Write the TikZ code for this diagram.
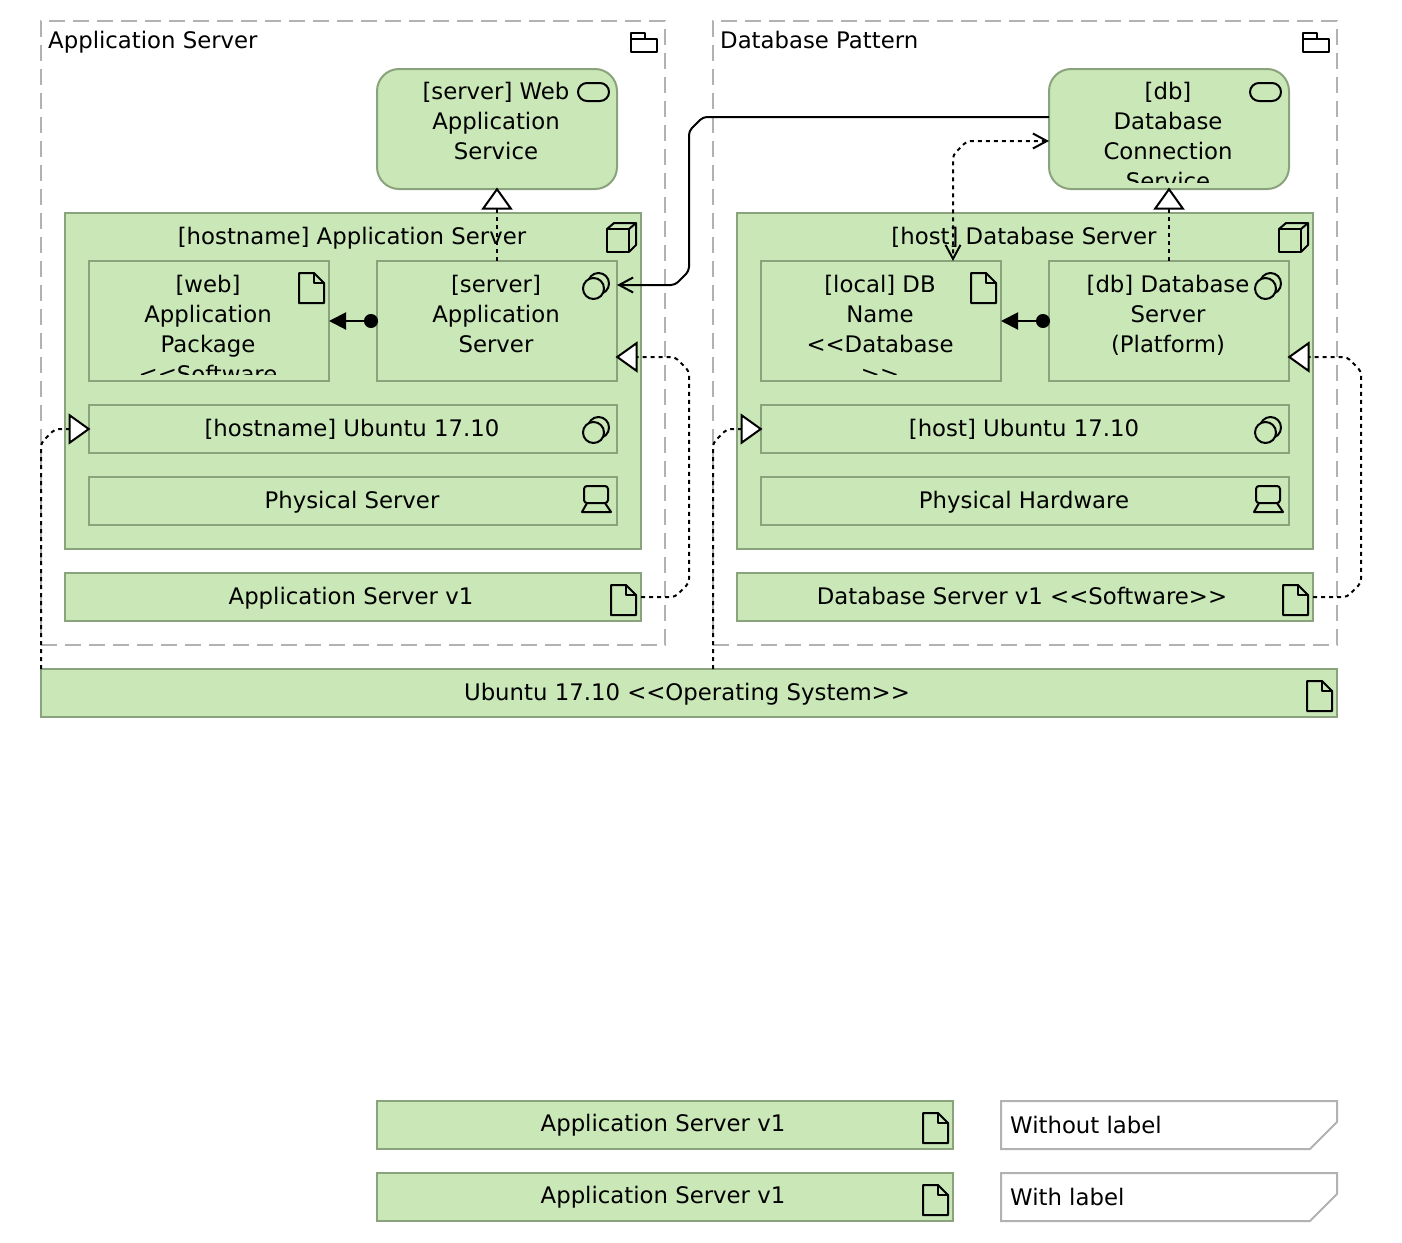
\documentclass[tikz,border=0pt]{standalone}
\usepackage{fontspec}
\setmainfont{DejaVu Sans}
\usetikzlibrary{arrows.meta}
\usetikzlibrary{positioning}
\definecolor{elemfill}{HTML}{C9E7B7}
\definecolor{elemline}{HTML}{8AA37C}
\definecolor{groupline}{HTML}{B2B2B2}
\tikzset{
  elem/.style={draw=elemline,fill=elemfill,line width=2pt,inner sep=0pt,outer sep=0pt},
  grp/.style={draw=groupline,line width=2pt,dash pattern=on 16pt off 8pt,inner sep=0pt,outer sep=0pt},
  lbl/.style={anchor=north,align=center,inner sep=0pt,font=\fontsize{22.8}{30}\selectfont,execute at begin node=\strut},
  lblleft/.style={lbl,anchor=north west},
  notebox/.style={draw=groupline,fill=white,line width=2pt},
  realz/.style={line width=2pt,dash pattern=on 4pt off 4pt,rounded corners=4pt,shorten >=-1.5pt,-{Triangle[fill=white,length=22pt,width=31pt]}},
  assoc/.style={line width=2pt,rounded corners=4pt,-{Straight Barb[length=14pt,width=15pt]}},
  accs/.style={line width=2pt,dash pattern=on 4pt off 4pt,rounded corners=4pt,{Straight Barb[length=14pt,width=15pt]}-{Straight Barb[length=14pt,width=15pt]}},
  asgn/.style={line width=2pt,{Circle[length=14pt]}-{Triangle[length=17pt,width=17pt]}},
  ico/.style={line width=2pt,line join=round},
  pics/docicon/.style={code={
    \draw[ico] (-30,12) -- (-30,42) -- (-5,42) -- (-5,22) -- (-15,12) -- cycle;
    \draw[ico] (-15,12) -- (-15,22) -- (-5,22);}},
  pics/svcicon/.style={code={
    \draw[ico,rounded corners=9pt] (-39,14) rectangle (-8,32);}},
  pics/sysicon/.style={code={
    \draw[ico] (-18.5,22.5) circle (10.5pt);
    \draw[ico,fill=elemfill] (-23.5,27.5) circle (10.5pt);}},
  pics/nodeicon/.style={code={
    \draw[ico] (-34,16) rectangle (-12,39);
    \draw[ico] (-34,16) -- (-27,10) -- (-5,10) -- (-5,32) -- (-12,39);
    \draw[ico] (-12,16) -- (-5,10);}},
  pics/devicon/.style={code={
    \draw[ico,rounded corners=3pt] (-33,9) rectangle (-9,26);
    \draw[ico] (-30,26) -- (-35,35) -- (-6,35) -- (-12,26);}},
  pics/foldericon/.style={code={
    \draw[ico] (-34,12) -- (-20,12) -- (-20,18) -- (-8,18) -- (-8,31) -- (-34,31) -- cycle;
    \draw[ico] (-34,18) -- (-20,18);}}
}
\begin{document}
\begin{tikzpicture}[x=1pt,y=-1pt]
\useasboundingbox (0,0) rectangle (1402,1242);
% groups
\node[grp,minimum width=624pt,minimum height=624pt] (appgroup) at (353,333) {};
\node[grp,minimum width=624pt,minimum height=624pt] (dbgroup) at (1025,333) {};
\node[lblleft] (appgrouplbl) at (48,27) {Application Server};
\node[lblleft] (dbgrouplbl) at (720,27) {Database Pattern};
\pic at (appgroup.north east) {foldericon};
\pic at (dbgroup.north east) {foldericon};
% left side
\node[elem,rounded corners=22pt,minimum width=240pt,minimum height=120pt] (websvc) at (497,129) {};
\node[elem,minimum width=576pt,minimum height=336pt] (appnode) at (353,381) {};
\node[elem,minimum width=240pt,minimum height=120pt] (webpkg) at (209,321) {};
\node[elem,minimum width=240pt,minimum height=120pt] (appsrv) at (497,321) {};
\node[elem,minimum width=528pt,minimum height=48pt] (appos) at (353,429) {};
\node[elem,minimum width=528pt,minimum height=48pt] (apphw) at (353,501) {};
\node[elem,minimum width=576pt,minimum height=48pt] (appver) at (353,597) {};
\node[lbl] (websvclbl) at (496,82) {[server] Web\\Application\\Service};
\node[lbl] (appnodelbl) at (352,223) {[hostname] Application Server};
\begin{scope}
\clip (89,261) rectangle (329,374);
\node[lbl] (webpkglbl) at (208,275) {[web]\\Application\\Package\\<{}<Software};
\end{scope}
\node[lbl] (appsrvlbl) at (496,275) {[server]\\Application\\Server};
\node[lbl] (apposlbl) at (352,415) {[hostname] Ubuntu 17.10};
\node[lbl] (apphwlbl) at (352,487) {Physical Server};
\node[lbl] (appverlbl) at (351,583) {Application Server v1};
\pic at (websvc.north east) {svcicon};
\pic at (appnode.north east) {nodeicon};
\pic at (webpkg.north east) {docicon};
\pic at (appsrv.north east) {sysicon};
\pic at (appos.north east) {sysicon};
\pic at (apphw.north east) {devicon};
\pic at (appver.north east) {docicon};
% right side
\node[elem,rounded corners=22pt,minimum width=240pt,minimum height=120pt] (dbconn) at (1169,129) {};
\node[elem,minimum width=576pt,minimum height=336pt] (dbnode) at (1025,381) {};
\node[elem,minimum width=240pt,minimum height=120pt] (localdb) at (881,321) {};
\node[elem,minimum width=240pt,minimum height=120pt] (dbsrv) at (1169,321) {};
\node[elem,minimum width=528pt,minimum height=48pt] (dbos) at (1025,429) {};
\node[elem,minimum width=528pt,minimum height=48pt] (dbhw) at (1025,501) {};
\node[elem,minimum width=576pt,minimum height=48pt] (dbver) at (1025,597) {};
\begin{scope}
\clip (1049,69) rectangle (1289,182);
\node[lbl] (dbconnlbl) at (1168,82) {[db]\\Database\\Connection\\Service};
\end{scope}
\node[lbl] (dbnodelbl) at (1024,223) {[host] Database Server};
\begin{scope}
\clip (761,261) rectangle (1001,374);
\node[lbl] (localdblbl) at (880,275) {[local] DB\\Name\\<{}<Database\\>{}>};
\end{scope}
\node[lbl] (dbsrvlbl) at (1168,275) {[db] Database\\Server\\(Platform)};
\node[lbl] (dboslbl) at (1024,415) {[host] Ubuntu 17.10};
\node[lbl] (dbhwlbl) at (1024,487) {Physical Hardware};
\node[lbl] (dbverlbl) at (1022,583) {Database Server v1 <{}<Software>{}>};
\pic at (dbconn.north east) {svcicon};
\pic at (dbnode.north east) {nodeicon};
\pic at (localdb.north east) {docicon};
\pic at (dbsrv.north east) {sysicon};
\pic at (dbos.north east) {sysicon};
\pic at (dbhw.north east) {devicon};
\pic at (dbver.north east) {docicon};
% operating system
\node[elem,minimum width=1296pt,minimum height=48pt] (osart) at (689,693) {};
\node[lbl] (osartlbl) at (687,679) {Ubuntu 17.10 <{}<Operating System>{}>};
\pic at (osart.north east) {docicon};
% connectors
\draw[realz] (appsrv.north) -- (websvc.south);
\draw[realz] (dbsrv.north) -- (dbconn.south);
\draw[asgn] ([xshift=1pt]appsrv.west) -- (webpkg.east);
\draw[asgn] ([xshift=1pt]dbsrv.west) -- (localdb.east);
\draw[assoc] ([yshift=12pt]dbconn.west) -- (703,117) -- (689,131) -- (689,271) -- (675,285) -- ([yshift=36pt]appsrv.east);
\draw[accs] ([yshift=-12pt]dbconn.west) -- (967,141) -- (953,155) -- ([xshift=72pt]localdb.north);
\draw[realz] (appver.east) -- (675,597) -- (689,583) -- (689,371) -- (675,357) -- ([yshift=-36pt]appsrv.east);
\draw[realz] (dbver.east) -- (1347,597) -- (1361,583) -- (1361,371) -- (1347,357) -- ([yshift=-36pt]dbsrv.east);
\draw[realz] (osart.north west) -- (41,443) -- (55,429) -- (appos.west);
\draw[realz] ([xshift=24pt]osart.north) -- (713,443) -- (727,429) -- (dbos.west);
% legend
\node[elem,minimum width=576pt,minimum height=48pt] (legenda) at (665,1125) {};
\node[elem,minimum width=576pt,minimum height=48pt] (legendb) at (665,1197) {};
\node[lbl] (legendalbl) at (663,1110) {Application Server v1};
\node[lbl] (legendblbl) at (663,1182) {Application Server v1};
\pic at (legenda.north east) {docicon};
\pic at (legendb.north east) {docicon};
\draw[notebox] (1001,1101) -- (1337,1101) -- (1337,1122) -- (1310,1149) -- (1001,1149) -- cycle;
\draw[notebox] (1001,1173) -- (1337,1173) -- (1337,1194) -- (1310,1221) -- (1001,1221) -- cycle;
\node[lblleft] (notealbl) at (1010,1112) {Without label};
\node[lblleft] (noteblbl) at (1010,1184) {With label};
\end{tikzpicture}
\end{document}
